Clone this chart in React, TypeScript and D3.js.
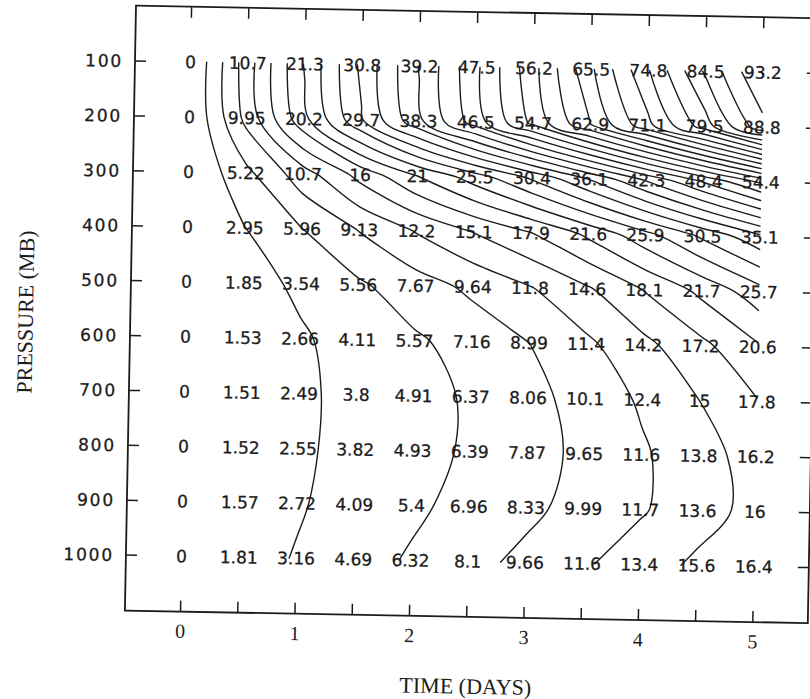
import React from "react";
import * as d3 from "d3";

// Grid axes
const TIMES = [0, 0.5, 1, 1.5, 2, 2.5, 3, 3.5, 4, 4.5, 5];
const PRESSURES = [100, 200, 300, 400, 500, 600, 700, 800, 900, 1000];

// Field values, one row per pressure level (columns follow TIMES)
const ROW_100 = [0, 10.7, 21.3, 30.8, 39.2, 47.5, 56.2, 65.5, 74.8, 84.5, 93.2];
const ROW_200 = [0, 9.95, 20.2, 29.7, 38.3, 46.5, 54.7, 62.9, 71.1, 79.5, 88.8];
const ROW_300 = [0, 5.22, 10.7, 16, 21, 25.5, 30.4, 36.1, 42.3, 48.4, 54.4];
const ROW_400 = [0, 2.95, 5.96, 9.13, 12.2, 15.1, 17.9, 21.6, 25.9, 30.5, 35.1];
const ROW_500 = [0, 1.85, 3.54, 5.56, 7.67, 9.64, 11.8, 14.6, 18.1, 21.7, 25.7];
const ROW_600 = [0, 1.53, 2.66, 4.11, 5.57, 7.16, 8.99, 11.4, 14.2, 17.2, 20.6];
const ROW_700 = [0, 1.51, 2.49, 3.8, 4.91, 6.37, 8.06, 10.1, 12.4, 15, 17.8];
const ROW_800 = [0, 1.52, 2.55, 3.82, 4.93, 6.39, 7.87, 9.65, 11.6, 13.8, 16.2];
const ROW_900 = [0, 1.57, 2.72, 4.09, 5.4, 6.96, 8.33, 9.99, 11.7, 13.6, 16];
const ROW_1000 = [0, 1.81, 3.16, 4.69, 6.32, 8.1, 9.66, 11.6, 13.4, 15.6, 16.4];

const ROWS = [ROW_100, ROW_200, ROW_300, ROW_400, ROW_500, ROW_600, ROW_700, ROW_800, ROW_900, ROW_1000];

// Contour levels
const LEVELS = [
  3, 6, 9, 12, 15, 18, 21, 24, 27, 30, 33, 36, 39, 42, 45, 48,
  51, 54, 57, 60, 63, 66, 69, 72, 75, 78, 81, 84, 87, 90, 93,
];

// Axis tick labels
const X_TICK_LABELS = [0, 1, 2, 3, 4, 5];
const Y_TICK_LABELS = PRESSURES;

const W = 810;
const H = 699;
const FRAME = { left: 136, top: 5.7, right: 819, bottom: 610.7 };
const TILT = 1.05;
const TICK = 11;
const INK = "#1c1c1c";

const x = d3.scaleLinear().domain([0, 5]).range([191.6, 764]);
const y = d3.scaleLinear().domain([100, 1000]).range([61, 555.2]);

type Pt = [number, number];

function contourLines() {
  const nx = TIMES.length;
  const ny = PRESSURES.length;
  const values = ROWS.flat();
  // grid coordinates of d3.contours -> data coordinates
  const gx = d3.scaleLinear().domain([0.5, nx - 0.5]).range([TIMES[0], TIMES[nx - 1]]);
  const gy = d3.scaleLinear().domain([0.5, ny - 0.5]).range([PRESSURES[0], PRESSURES[ny - 1]]);
  const eps = 1e-6;
  const onEdge = (p: number[]) =>
    p[0] <= eps || p[0] >= nx - eps || p[1] <= eps || p[1] >= ny - eps;

  const gen = d3.contours().size([nx, ny]).thresholds(LEVELS);
  const lines: { level: number; pts: Pt[]; closed: boolean }[] = [];
  for (const c of gen(values)) {
    for (const poly of c.coordinates) {
      for (const ring0 of poly) {
        const ring = ring0.slice(0, -1);
        const n = ring.length;
        const start = ring.findIndex(onEdge);
        const toData = (p: number[]): Pt => [gx(p[0]), gy(p[1])];
        if (start < 0) {
          lines.push({ level: c.value, pts: ring.map(toData), closed: true });
          continue;
        }
        let cur: Pt[] = [];
        for (let k = 1; k <= n; k++) {
          const p = ring[(start + k) % n];
          if (onEdge(p)) {
            if (cur.length > 1) lines.push({ level: c.value, pts: cur, closed: false });
            cur = [];
          } else {
            cur.push(toData(p));
          }
        }
      }
    }
  }
  return lines;
}

export default function App() {
  const lines = contourLines();
  const openLine = d3
    .line<Pt>()
    .x((d) => x(d[0]))
    .y((d) => y(d[1]))
    .curve(d3.curveCatmullRom.alpha(0.5));
  const closedLine = d3
    .line<Pt>()
    .x((d) => x(d[0]))
    .y((d) => y(d[1]))
    .curve(d3.curveCatmullRomClosed.alpha(0.5));

  return (
    <svg
      width={W}
      height={H}
      viewBox={`0 0 ${W} ${H}`}
      style={{ position: "absolute", left: 0, top: 0, background: "#fff", display: "block" }}
    >
      <rect x={0} y={0} width={W} height={H} fill="#fff" />
      <g transform={`rotate(${TILT}, ${FRAME.left}, ${FRAME.top})`}>
        {/* frame */}
        <rect
          x={FRAME.left}
          y={FRAME.top}
          width={FRAME.right - FRAME.left}
          height={FRAME.bottom - FRAME.top}
          fill="none"
          stroke={INK}
          strokeWidth={1.8}
        />

        {/* ticks on all four sides, pointing inward */}
        <g stroke={INK} strokeWidth={1.5}>
          {TIMES.map((t) => (
            <g key={`xt${t}`}>
              <line x1={x(t)} x2={x(t)} y1={FRAME.top} y2={FRAME.top + TICK} />
              <line x1={x(t)} x2={x(t)} y1={FRAME.bottom} y2={FRAME.bottom - TICK} />
            </g>
          ))}
          {PRESSURES.map((p) => (
            <g key={`yt${p}`}>
              <line x1={FRAME.left} x2={FRAME.left + TICK} y1={y(p)} y2={y(p)} />
              <line x1={FRAME.right} x2={FRAME.right - TICK} y1={y(p)} y2={y(p)} />
            </g>
          ))}
        </g>

        {/* contour lines */}
        <g fill="none" stroke={INK} strokeWidth={1.4} strokeLinejoin="round" strokeLinecap="round">
          {lines.map((l, i) => (
            <path key={i} d={(l.closed ? closedLine(l.pts) : openLine(l.pts)) || ""} />
          ))}
        </g>

        {/* grid values */}
        <g
          fontFamily="'DejaVu Sans', sans-serif"
          fontSize={17}
          fill={INK}
          stroke={INK}
          strokeWidth={0.3}
          textAnchor="middle"
        >
          {ROWS.map((row, j) =>
            row.map((v, i) => (
              <text key={`v${j}-${i}`} x={x(TIMES[i])} y={y(PRESSURES[j])} dy="0.36em">
                {String(v)}
              </text>
            ))
          )}
        </g>

        {/* y tick labels */}
        <g
          fontFamily="'DejaVu Sans', sans-serif"
          fontSize={17}
          fill={INK}
          stroke={INK}
          strokeWidth={0.3}
          textAnchor="end"
          letterSpacing={1.8}
        >
          {Y_TICK_LABELS.map((p) => (
            <text key={`yl${p}`} x={FRAME.left - 12} y={y(p)} dy="0.36em">
              {p}
            </text>
          ))}
        </g>

        {/* x tick labels */}
        <g fontFamily="'Liberation Serif', serif" fontSize={20} fill={INK} textAnchor="middle">
          {X_TICK_LABELS.map((t) => (
            <text key={`xl${t}`} x={x(t)} y={637}>
              {t}
            </text>
          ))}
        </g>

        {/* axis titles */}
        <text
          x={(x(0) + x(5)) / 2}
          y={687.5}
          textAnchor="middle"
          fontFamily="'Liberation Serif', serif"
          fontSize={22}
          fill={INK}
        >
          TIME (DAYS)
        </text>
        <text
          transform={`translate(31, 314) rotate(-90)`}
          textAnchor="middle"
          dy="0.35em"
          fontFamily="'Liberation Serif', serif"
          fontSize={22}
          fill={INK}
        >
          PRESSURE (MB)
        </text>
      </g>
    </svg>
  );
}
